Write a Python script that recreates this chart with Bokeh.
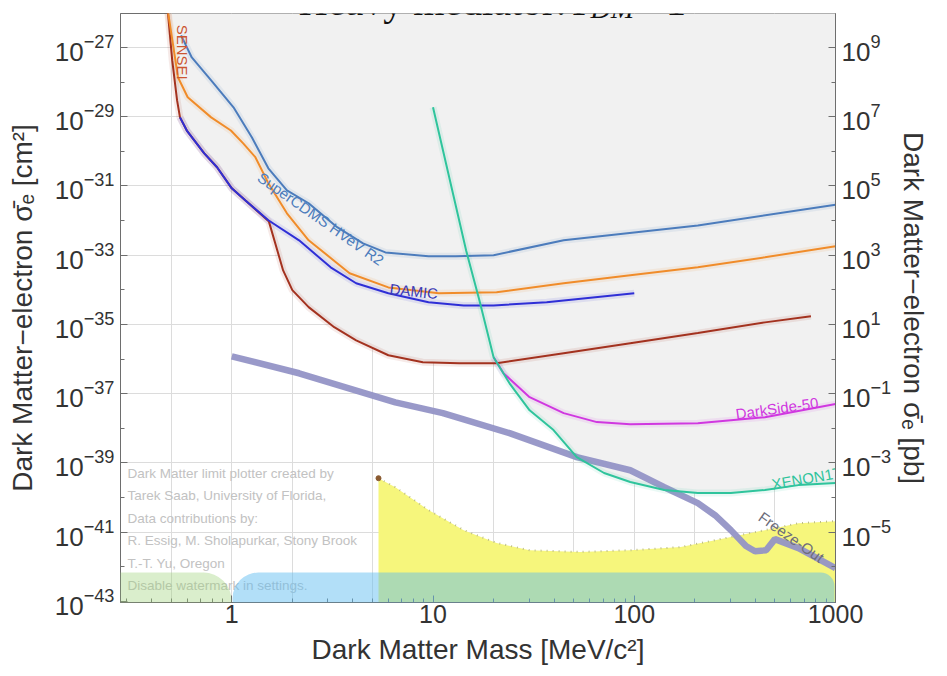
import numpy as np
from bokeh.plotting import figure
from bokeh.models import (Range1d, LogAxis, LogScale, FixedTicker, Label, BoxAnnotation,
                          ColumnDataSource, PrintfTickFormatter)
from bokeh.core.properties import value
from bokeh.embed import file_html
from bokeh.resources import INLINE

# ---------------- data (mass in MeV, cross-section as log10 of cm^2) ----------------
sensei_m = [0.48, 0.506, 0.535, 0.553, 0.598, 0.73, 0.845, 1.0, 1.17, 1.53, 1.80, 2.0,
            2.41, 3.23, 4.15, 6.0, 8.9, 13.5, 20.7, 44.6, 95.5, 207, 446, 755]
sensei_s = [-25.9, -27.375, -28.53, -29.02, -29.40, -30.06, -30.46, -31.07, -31.42, -32.03,
            -33.44, -34.01, -34.50, -35.08, -35.46, -35.89, -36.09, -36.12, -36.12, -35.83,
            -35.54, -35.25, -34.94, -34.76]

orange_m = [0.48, 0.541, 0.604, 0.79, 0.99, 1.14, 1.31, 1.52, 1.88, 2.41, 3.34, 3.85, 6.0,
            10.7, 20.7, 44.6, 95.5, 207, 446, 1000]
orange_s = [-25.9, -27.87, -28.44, -29.02, -29.40, -29.77, -30.17, -30.92, -31.79, -32.57,
            -33.23, -33.52, -33.93, -34.10, -34.07, -33.81, -33.58, -33.35, -33.06, -32.74]

cdms_m = [0.56, 0.633, 0.79, 1.02, 1.26, 1.52, 1.88, 2.41, 3.34, 4.49, 5.8, 9.5, 13.0, 20,
          44.6, 207, 1000]
cdms_s = [-26.65, -27.29, -27.95, -28.73, -29.60, -30.49, -31.13, -31.50, -32.19, -32.66,
          -32.92, -33.03, -33.03, -33.00, -32.57, -32.14, -31.54]

damic_m = [0.553, 0.598, 0.73, 0.845, 1.0, 1.17, 1.52, 2.16, 3.10, 4.15, 6.0, 9.5, 14.2, 20,
           36.7, 100]
damic_s = [-29.02, -29.40, -30.06, -30.46, -31.07, -31.42, -31.99, -32.57, -33.35, -33.81,
           -34.10, -34.36, -34.45, -34.45, -34.36, -34.10]

xenon_m = [10, 14.6, 17.0, 20, 24.0, 30.2, 39.7, 51.8, 70.8, 95.5, 141, 207, 302, 446, 655, 1000]
xenon_s = [-28.73, -32.86, -34.30, -35.95, -36.70, -37.48, -38.05, -38.83, -39.29, -39.55,
           -39.78, -39.87, -39.87, -39.78, -39.64, -39.58]

darkside_m = [20, 22.4, 30.2, 44.6, 65.2, 95.5, 207, 446, 1000]
darkside_s = [-35.95, -36.41, -37.10, -37.56, -37.82, -37.88, -37.85, -37.68, -37.30]

freeze_m = [1, 2.16, 6.5, 11.2, 24, 51.8, 95.5, 141, 207, 252, 302, 359, 398, 452, 500, 655, 1000]
freeze_s = [-35.92, -36.41, -37.25, -37.56, -38.14, -38.83, -39.21, -39.70, -40.16, -40.51,
            -40.94, -41.40, -41.55, -41.52, -41.20, -41.46, -42.04]

floor_m = [5.36, 6.5, 9.5, 14.2, 20.7, 30.2, 53.6, 95.5, 170, 252, 446, 655, 1000]
floor_s = [-39.44, -39.70, -40.36, -40.94, -41.31, -41.52, -41.57, -41.52, -41.43, -41.23,
           -40.94, -40.74, -40.68]

label_text = ["SENSEI", "SuperCDMS HVeV R2", "DAMIC", "DarkSide-50", "XENON1T", "Freeze-Out"]
label_m = [0.571, 2.77, 8.04, 512, 720, 604]
label_s = [-27.14, -31.95, -34.04, -37.42, -39.44, -41.14]
label_deg = [-90, -35, -6, 8, 10, -35]

x_ticks = [1, 10, 100, 1000]
y_tick_exp = list(range(-43, -26, 2))
pb_tick_exp = list(range(-5, 10, 2))
watermark = ["Dark Matter limit plotter created by",
             "Tarek Saab, University of Florida,",
             "Data contributions by:",
             "R. Essig, M. Sholapurkar, Stony Brook",
             "T.-T. Yu, Oregon",
             "Disable watermark in settings."]

# ---------------- layout / styling ----------------
W, H = 947, 676
FL, FR, FT, FB = 120, 835, 13, 602
X0, X1 = 0.28, 1000.0
YE0, YE1 = -43.03, -26.02
PB = 1e36
FONT = "Liberation Sans"

c_sensei = "#a3321f"
c_sensei_lab = "#cc5530"
c_orange = "#f08c2a"
c_cdms = "#4c7cbc"
c_damic = "#2f2fd6"
c_xenon = "#2fc49c"
c_dark = "#d038e0"
c_freeze = "#9393c6"
c_grid = "#dcdcdc"
c_axis = "#6e6e6e"


def px2x(px):
    lx0, lx1 = np.log10(X0), np.log10(X1)
    return 10 ** (lx0 + (px - FL) / (FR - FL) * (lx1 - lx0))


def px2y(py):
    return 10 ** (YE0 + (FB - py) / (FB - FT) * (YE1 - YE0))


def pw(arr):
    return [10 ** v for v in arr]


p = figure(width=W, height=H, x_axis_type="log", y_axis_type="log",
           x_range=Range1d(X0, X1), y_range=Range1d(10 ** YE0, 10 ** YE1),
           output_backend="svg", toolbar_location=None,
           min_border_left=FL, min_border_right=W - FR, min_border_top=FT,
           min_border_bottom=H - FB)
p.background_fill_color = "white"
p.border_fill_color = None
p.outline_line_color = c_axis

# grids
p.xgrid.ticker = FixedTicker(ticks=[0.5, 1, 2, 5, 10, 20, 50, 100, 200, 500])
p.ygrid.ticker = FixedTicker(ticks=[10.0 ** e for e in range(-41, -26, 2)])
p.xgrid.grid_line_color = c_grid
p.ygrid.grid_line_color = c_grid

minor_x = [d * 10.0 ** k for k in range(-1, 3) for d in range(2, 10) if d * 10.0 ** k >= X0]


def style_axis(ax, tick_size):
    ax.axis_line_color = c_axis
    ax.major_tick_line_color = c_axis
    ax.minor_tick_line_color = c_axis
    ax.major_tick_in = 7
    ax.major_tick_out = 0
    ax.minor_tick_in = 4
    ax.minor_tick_out = 0
    ax.major_label_text_font = FONT
    ax.major_label_text_font_size = tick_size
    ax.major_label_text_color = "#333333"
    ax.axis_label_text_font = FONT
    ax.axis_label_text_font_size = "28px"
    ax.axis_label_text_font_style = "normal"
    ax.axis_label_text_color = "#333333"
    if "background_fill_color" in ax.properties():
        ax.background_fill_color = None


xa = p.xaxis[0]
xa.ticker = FixedTicker(ticks=x_ticks, minor_ticks=minor_x)
xa.formatter = PrintfTickFormatter(format="%d")
style_axis(xa, "25px")
xa.axis_label = "Dark Matter Mass [MeV/c\u00b2]"
xa.major_label_standoff = 2
xa.axis_label_standoff = 8

ya = p.yaxis[0]
ya.ticker = FixedTicker(ticks=[10.0 ** e for e in y_tick_exp],
                        minor_ticks=[10.0 ** e for e in range(-42, -26, 2)])
style_axis(ya, "26px")
ya.axis_label = "Dark Matter\u2212electron \u03c3\u0304\u2091 [cm\u00b2]"
ya.major_label_standoff = 6
ya.axis_label_standoff = 14

p.extra_y_ranges = {"pb": Range1d(10 ** YE0 * PB, 10 ** YE1 * PB)}
p.extra_y_scales = {"pb": LogScale()}
ra = LogAxis(y_range_name="pb",
             ticker=FixedTicker(ticks=[10.0 ** e for e in pb_tick_exp],
                                minor_ticks=[10.0 ** e for e in range(-6, 10, 2)]))
style_axis(ra, "26px")
ra.axis_label = "Dark Matter\u2212electron \u03c3\u0304\u2091 [pb]"
ra.major_label_standoff = 6
ra.axis_label_standoff = 4
p.add_layout(ra, "right")

# ---------------- excluded region (grey) ----------------
grid_m = np.logspace(np.log10(0.48), 3, 900)
lg = np.log10(grid_m)
env = np.full_like(grid_m, np.inf)
for mm, ss in [(sensei_m, sensei_s), (orange_m, orange_s), (cdms_m, cdms_s),
               (damic_m, damic_s), (xenon_m, xenon_s), (darkside_m, darkside_s)]:
    v = np.interp(lg, np.log10(mm), ss, left=np.inf, right=np.inf)
    env = np.minimum(env, v)
env = np.minimum(env, YE1 + 1)
p.varea(x=grid_m, y1=10 ** env, y2=10 ** (YE1 + 1), fill_color="#f1f1f1")

# ---------------- yellow region ----------------
p.varea(x=floor_m, y1=10 ** (YE0 - 1), y2=pw(floor_s), fill_color="#f6f67c")
p.line(floor_m, pw(floor_s), line_color="#bdbd86", line_width=2, line_dash="1 5")
p.scatter([floor_m[0]], [10 ** floor_s[0]], size=5, color="#8a5a30")

# ---------------- curves ----------------
p.line(freeze_m, pw(freeze_s), line_color=c_freeze, line_width=6.5, line_alpha=0.95)

curves = [(sensei_m, sensei_s, c_sensei), (orange_m, orange_s, c_orange),
          (cdms_m, cdms_s, c_cdms), (damic_m, damic_s, c_damic),
          (darkside_m, darkside_s, c_dark), (xenon_m, xenon_s, c_xenon)]
for mm, ss, cc in curves:
    p.line(mm, pw(ss), line_color=cc, line_width=7, line_alpha=0.10)
for mm, ss, cc in curves:
    p.line(mm, pw(ss), line_color=cc, line_width=2)

# ---------------- curve labels ----------------
lab_src = ColumnDataSource(dict(
    x=label_m, y=pw(label_s), text=label_text,
    angle=[np.deg2rad(a) for a in label_deg],
    color=[c_sensei_lab, c_cdms, "#3a3ab8", c_dark, c_xenon, "#6d6d7a"]))
p.text(x="x", y="y", text="text", angle="angle", text_color="color", source=lab_src,
       text_font=value(FONT), text_font_size="15px", text_align="center",
       text_baseline="middle")

# ---------------- watermark ----------------
for i, line in enumerate(watermark):
    p.add_layout(Label(x=px2x(127), y=px2y(473 + 22.4 * i), text=line,
                       text_font=FONT, text_font_size="13.5px", text_color="#c2c2c2",
                       text_baseline="middle", text_align="left"))

# ---------------- title (cut off at the top of the page) ----------------
TY = 1
p.add_layout(Label(x=px2x(566), y=px2y(TY), text="Heavy mediator:",
                   text_font="Liberation Serif", text_font_size="40px",
                   text_color="#111111", text_align="right", text_baseline="alphabetic"))
p.add_layout(Label(x=px2x(573), y=px2y(TY), text="F",
                   text_font="Liberation Serif", text_font_size="40px",
                   text_font_style="italic", text_color="#111111", text_align="left",
                   text_baseline="alphabetic"))
p.add_layout(Label(x=px2x(590), y=px2y(TY + 7), text="DM",
                   text_font="Liberation Serif", text_font_size="28px",
                   text_font_style="italic", text_color="#111111", text_align="left",
                   text_baseline="alphabetic"))
p.add_layout(Label(x=px2x(633), y=px2y(TY), text="= 1",
                   text_font="Liberation Serif", text_font_size="40px",
                   text_color="#111111", text_align="left", text_baseline="alphabetic"))


# ---------------- highlight overlays ----------------
def overlay_box(x_left, x_right, y_top, y_bottom, color, alpha, radius):
    p.add_layout(BoxAnnotation(left=x_left, right=x_right, top=y_top, bottom=y_bottom,
                               left_units="canvas", right_units="canvas",
                               top_units="canvas", bottom_units="canvas",
                               fill_color=color, fill_alpha=alpha, line_alpha=0,
                               border_radius=radius, level="overlay"))


overlay_box(3, 8, 0, H, "#dedede", 1.0,
            dict(top_left=0, top_right=0, bottom_right=0, bottom_left=0))
overlay_box(8, 231, 572, 628, "#9fd27a", 0.38,
            dict(top_left=0, top_right=28, bottom_right=28, bottom_left=0))
overlay_box(232, 834, 572, 625, "#5fbdf0", 0.48,
            dict(top_left=26, top_right=14, bottom_right=0, bottom_left=26))

open("out.html", "w").write(file_html(p, INLINE))
